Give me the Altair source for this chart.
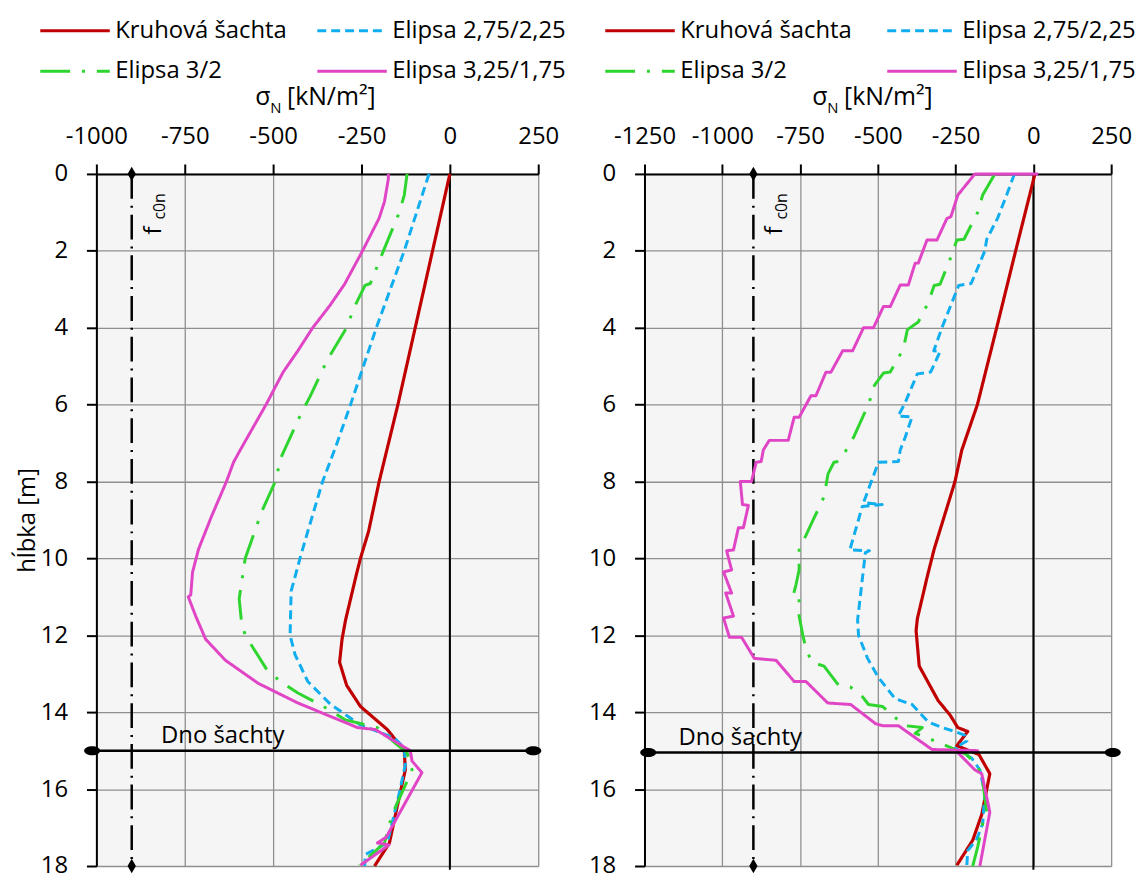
import altair as alt
import pandas as pd

FONT = "Open Sans"

SERIES = ["Kruhová šachta", "Elipsa 2,75/2,25", "Elipsa 3/2", "Elipsa 3,25/1,75"]
COLORS = ["#C00000", "#10AEEF", "#2ED52E", "#E045C6"]
DASHES = [[1, 0], [9, 5], [30, 12, 3, 12], [1, 0]]

X_TICKS_L = [-1000, -750, -500, -250, 0, 250]
X_TICKS_R = [-1250, -1000, -750, -500, -250, 0, 250]
Y_TICKS = [0, 2, 4, 6, 8, 10, 12, 14, 16, 18]

F_C0N = -900
DNO = 15.0

# ---------------- left panel ----------------
L_RED_D = [0, 2, 4, 6, 8, 9.3, 10, 10.4, 11.6, 12.1, 12.7, 13.3, 13.85, 14.45, 15.0, 15.5, 16.2, 17.4, 18]
L_RED_V = [0, -49, -98, -147, -200, -230, -253, -264, -295, -305, -312, -292, -253, -177, -129, -126, -143, -171, -213]

L_BLUE_D = [0, 2, 4, 6, 7.1, 8, 9.3, 10, 10.85, 12.0, 12.5, 13.2, 13.8, 14.33, 14.67, 14.93, 15.37, 16.1, 17.4, 17.7, 18]
L_BLUE_V = [-59, -129, -208, -281, -323, -360, -402, -424, -449, -452, -438, -402, -337, -253, -157, -129, -126, -143, -177, -239, -241]

L_GREEN_D = [0, 0.55, 1.0, 2.0, 2.85, 2.9, 3.5, 4.0, 4.86, 5.8, 6.2, 7.36, 8.0, 8.8, 10.0, 11.05, 11.6, 12.0,
             12.86, 13.2, 13.5, 13.84, 14.2, 14.4, 14.85, 15.05, 15.5, 15.9, 16.65, 17.4, 17.98]
L_GREEN_V = [-121, -129, -143, -188, -225, -240, -272, -292, -348, -396, -419, -477, -494, -533, -579, -596, -590, -579,
             -520, -480, -430, -360, -295, -205, -149, -121, -107, -126, -163, -185, -256]

L_MAG_D = [0, 0.13, 0.72, 1.15, 2.0, 2.87, 3.43, 4.0, 4.6, 5.16, 6.0, 7.18, 7.5, 8.0, 8.9, 9.76, 10.36, 10.95,
           11.0, 11.5, 12.1, 12.65, 13.25, 13.76, 14.4, 14.45, 15.0, 15.27, 15.57, 17.25, 17.4, 17.45, 17.98]
L_MAG_V = [-174, -174, -185, -200, -247, -298, -340, -388, -430, -472, -520, -593, -612, -632, -674, -711, -728, -733,
           -740, -719, -691, -635, -542, -430, -261, -211, -112, -107, -79, -180, -205, -172, -253]

# ---------------- right panel ----------------
R_RED_D = [0, 2, 4, 6, 7.18, 8.0, 9.76, 10.5, 11.57, 11.88, 12.8, 13.7, 14.07, 14.4, 14.5, 14.87, 15.1, 15.6,
           16.66, 17.33, 17.98]
R_RED_V = [5, -57, -118, -180, -230, -252, -319, -342, -373, -377, -367, -306, -268, -243, -211, -246, -175, -140,
           -166, -195, -246]

R_BLUE_D = [0, 0.55, 1.15, 1.7, 2.0, 2.85, 2.9, 4.0, 4.6, 4.62, 5.15, 5.2, 6.0, 6.3, 6.32, 6.85, 7.18, 7.48, 7.5,
            8.55, 8.6, 8.65, 9.78, 9.8, 9.85, 11.6, 12.0, 12.6, 13.1, 13.65, 13.8, 14.25, 14.4, 14.5, 14.6, 14.75,
            14.93, 15.2, 15.5, 16.1, 16.9, 17.3, 17.6, 18]
R_BLUE_V = [-61, -86, -115, -150, -156, -200, -240, -294, -320, -300, -330, -373, -415, -435, -390, -412, -428, -434,
            -498, -546, -486, -550, -590, -527, -540, -565, -562, -533, -498, -444, -390, -338, -294, -252, -220,
            -214, -252, -198, -172, -156, -163, -182, -211, -214]

R_GREEN_D = [0, 0.55, 1.0, 1.7, 1.72, 2.1, 2.87, 2.9, 3.35, 3.85, 4.05, 4.55, 5.15, 5.18, 5.5, 6.0, 6.33, 6.85,
             7.2, 7.48, 7.5, 7.8, 8.4, 8.68, 9.0, 9.4, 9.78, 10.3, 10.68, 11.0, 11.02, 11.5, 12.0, 12.35, 12.7,
             12.8, 13.3, 13.35, 13.6, 13.8, 13.85, 14.1, 14.35, 14.4, 14.55, 14.8, 15.1, 15.4, 15.6, 16.6, 16.9,
             17.5, 18.0]
R_GREEN_V = [-124, -163, -179, -223, -246, -262, -300, -319, -338, -370, -405, -418, -460, -482, -511, -530, -549,
             -578, -603, -626, -641, -660, -673, -689, -708, -731, -753, -753, -763, -773, -753, -753, -741, -731,
             -712, -673, -626, -587, -549, -530, -485, -450, -412, -357, -380, -300, -214, -182, -166, -150, -163,
             -179, -195]

R_MAG_D = [0, 0, 0.55, 1.11, 1.16, 1.72, 1.72, 2.32, 2.32, 2.89, 2.89, 3.45, 3.45, 4.0, 4.0, 4.6, 4.6, 5.16, 5.16,
           5.77, 5.77, 6.33, 6.33, 6.93, 6.93, 7.18, 7.48, 7.5, 8.0, 8.0, 8.6, 8.62, 9.2, 9.2, 9.78, 9.8, 10.3,
           10.35, 10.9, 10.9, 11.5, 11.55, 12.05, 12.05, 12.6, 12.65, 13.2, 13.2, 13.76, 13.8, 14.3, 14.35, 14.35,
           14.97, 15.0, 15.05, 15.5, 15.6, 16.6, 18]
R_MAG_V = [15, -188, -243, -265, -278, -310, -342, -370, -380, -402, -428, -460, -482, -514, -546, -581, -613, -651,
           -667, -699, -715, -753, -769, -788, -849, -868, -875, -891, -906, -942, -935, -916, -932, -948, -964,
           -986, -970, -996, -970, -989, -964, -996, -977, -938, -897, -827, -769, -731, -661, -587, -507, -485,
           -434, -326, -179, -243, -188, -166, -140, -172]

LEFT = {
    "series": [(SERIES[0], L_RED_D, L_RED_V), (SERIES[1], L_BLUE_D, L_BLUE_V),
               (SERIES[2], L_GREEN_D, L_GREEN_V), (SERIES[3], L_MAG_D, L_MAG_V)],
    "xdom": [-1000, 250], "xticks": X_TICKS_L, "width": 445,
    "dno": [-1012, 236], "dno_d": 15.0, "dno_lab": -817,
    "ytitle": "hĺbka [m]", "legx": -35, "colpad": 24, "title_x": 160,
}
RIGHT = {
    "series": [(SERIES[0], R_RED_D, R_RED_V), (SERIES[1], R_BLUE_D, R_BLUE_V),
               (SERIES[2], R_GREEN_D, R_GREEN_V), (SERIES[3], R_MAG_D, R_MAG_V)],
    "xdom": [-1250, 250], "xticks": X_TICKS_R, "width": 470,
    "dno": [-1238, 255], "dno_d": 15.05, "dno_lab": -1141,
    "ytitle": None, "legx": -18, "colpad": 29, "title_x": 169,
}

HEIGHT = 697
DIAMOND = "M0,-1L0.58,0L0,1L-0.58,0Z"
ELLIPSE = "M-1,0A1,0.56,0,1,0,1,0A1,0.56,0,1,0,-1,0Z"
LEG_SYMBOL = "M-2.9167,0H2.9167"


def panel(cfg):
    rows = []
    for name, D, V in cfg["series"]:
        for i, (d, v) in enumerate(zip(D, V)):
            rows.append({"s": name, "d": d, "v": v, "i": i})
    df = pd.DataFrame(rows)

    xs = alt.Scale(domain=cfg["xdom"], nice=False, zero=False)
    ys = alt.Scale(domain=[0, 18], reverse=True, nice=False, zero=False)

    xaxis = alt.Axis(orient="top", values=cfg["xticks"], title=None, grid=True,
                     gridColor="#8f8f8f", gridWidth=1.3, domainColor="black", domainWidth=2,
                     tickColor="black", tickWidth=2, tickSize=10, labelFont=FONT, labelFontSize=24,
                     labelColor="black", labelPadding=16, labelOverlap=False, labelFlush=False,
                     labelExpr="'' + datum.value")
    yargs = dict(orient="left", values=Y_TICKS, grid=True, gridColor="#8f8f8f", gridWidth=1.3,
                 domainColor="black", domainWidth=2, tickColor="black", tickWidth=2, tickSize=10,
                 labelFont=FONT, labelFontSize=24, labelColor="black", labelPadding=19,
                 labelOverlap=False, labelFlush=False, labelExpr="'' + datum.value")
    if cfg["ytitle"]:
        yaxis = alt.Axis(title=cfg["ytitle"], titleFont=FONT, titleFontSize=24, titleFontWeight="normal",
                         titleColor="black", titlePadding=1, **yargs)
    else:
        yaxis = alt.Axis(title=None, **yargs)

    def X(f="v:Q"):
        return alt.X(f, scale=xs, axis=xaxis)

    def Y(f="d:Q"):
        return alt.Y(f, scale=ys, axis=yaxis)

    leg = alt.Legend(orient="none", legendX=cfg["legx"], legendY=-158, columns=2, direction="horizontal",
                     columnPadding=cfg["colpad"], rowPadding=15, symbolType=LEG_SYMBOL, symbolSize=576,
                     symbolStrokeWidth=3, labelOffset=27, labelFontSize=24, labelFont=FONT,
                     labelColor="black", labelLimit=400, title=None, padding=0)

    layers = []
    zero = pd.DataFrame({"v": [0], "d": [0], "d2": [18.1]})
    layers.append(alt.Chart(zero).mark_rule(color="black", strokeWidth=2).encode(
        x=X(), y=Y(), y2="d2:Q"))
    fc = pd.DataFrame({"v": [F_C0N], "d": [0], "d2": [18]})
    layers.append(alt.Chart(fc).mark_rule(color="black", strokeWidth=2.5, strokeDash=[25, 7, 2, 7]).encode(
        x=X(), y=Y(), y2="d2:Q"))
    fcp = pd.DataFrame({"v": [F_C0N, F_C0N], "d": [0, 18]})
    layers.append(alt.Chart(fcp).mark_point(shape=DIAMOND, size=210, filled=True, color="black", opacity=1).encode(
        x=X(), y=Y()))
    fcl = pd.DataFrame({"v": [F_C0N], "d": [0]})
    layers.append(alt.Chart(fcl).mark_text(text="f", angle=270, align="left", baseline="alphabetic",
                                           dx=-61, dy=29, font=FONT, fontSize=24, color="black").encode(
        x=X(), y=Y()))
    layers.append(alt.Chart(fcl).mark_text(text="c0n", angle=270, align="left", baseline="alphabetic",
                                           dx=-46, dy=34, font=FONT, fontSize=16, color="black").encode(
        x=X(), y=Y()))

    for k, name in enumerate(SERIES):
        layers.append(alt.Chart(df).transform_filter(alt.datum.s == name).mark_line(
            strokeWidth=3.2 if k == 0 else 3, strokeJoin="round").encode(
            x=X(), y=Y(),
            color=alt.Color("s:N", scale=alt.Scale(domain=SERIES, range=COLORS), legend=leg),
            strokeDash=alt.StrokeDash("s:N", scale=alt.Scale(domain=SERIES, range=DASHES), legend=leg),
            order=alt.Order("i:Q")))

    dno = pd.DataFrame({"v": [cfg["dno"][0]], "v2": [cfg["dno"][1]], "d": [cfg["dno_d"]]})
    layers.append(alt.Chart(dno).mark_rule(color="black", strokeWidth=2.5).encode(
        x=X(), x2="v2:Q", y=Y()))
    dnop = pd.DataFrame({"v": cfg["dno"], "d": [cfg["dno_d"]] * 2})
    layers.append(alt.Chart(dnop).mark_point(shape=ELLIPSE, size=260, filled=True, color="black", opacity=1).encode(
        x=X(), y=Y()))
    dnol = pd.DataFrame({"v": [cfg["dno_lab"]], "d": [cfg["dno_d"]]})
    layers.append(alt.Chart(dnol).mark_text(text="Dno šachty", align="left", baseline="alphabetic",
                                            dy=-8, font=FONT, fontSize=24, color="black").encode(
        x=X(), y=Y()))

    one = pd.DataFrame({"k": [0]})
    tx = cfg["title_x"]
    for txt, dx, dy, fs in [("σ", 0, -69, 25), ("N", 15, -61, 15), ("[kN/m²]", 32, -69, 25)]:
        layers.append(alt.Chart(one).mark_text(text=txt, align="left", baseline="alphabetic",
                                               font=FONT, fontSize=fs, color="black").encode(
            x=alt.value(tx + dx), y=alt.value(dy)))

    return alt.layer(*layers).properties(width=cfg["width"], height=HEIGHT)


chart = alt.hconcat(panel(LEFT), panel(RIGHT), spacing=107, bounds="flush").resolve_scale(
    color="independent", strokeDash="independent", x="independent", y="independent"
).resolve_legend(color="independent", strokeDash="independent").configure_view(
    stroke=None, fill="#f5f5f5"
).properties(padding={"left": 7, "top": 6, "right": 0, "bottom": 0}, background="white")

chart.save("out.html", embed_options={"renderer": "svg", "actions": False})
